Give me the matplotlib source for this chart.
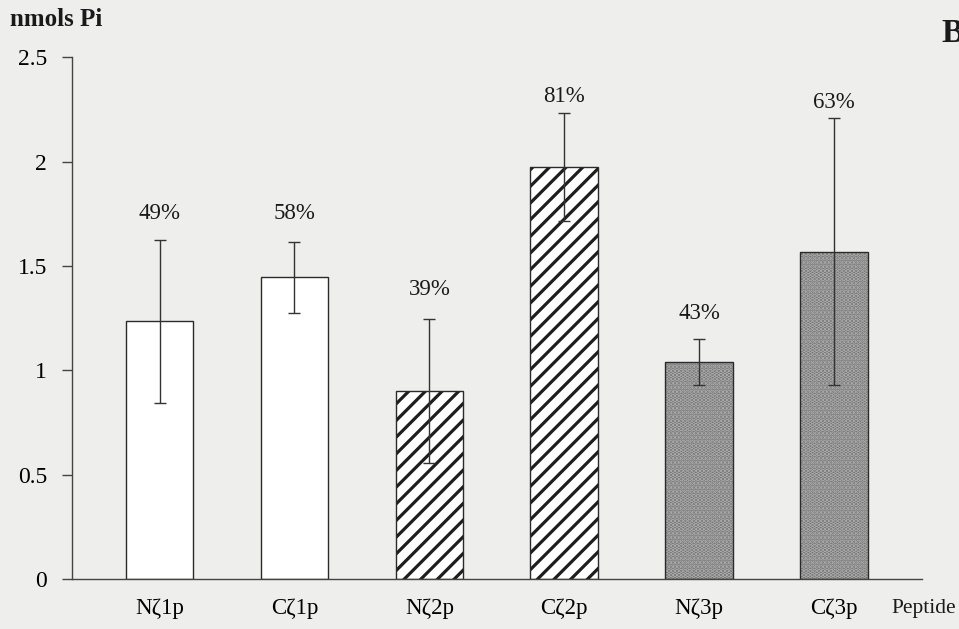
import matplotlib
matplotlib.use("Agg")
import matplotlib.pyplot as plt
import numpy as np

categories = ["Nζ1p", "Cζ1p", "Nζ2p", "Cζ2p", "Nζ3p", "Cζ3p"]
values = [1.235, 1.445, 0.90, 1.975, 1.04, 1.568]
errors = [0.39, 0.17, 0.345, 0.26, 0.11, 0.64]
percent_labels = ["49%", "58%", "39%", "81%", "43%", "63%"]
yticks = [0, 0.5, 1, 1.5, 2, 2.5]
ytick_labels = ["0", "0.5", "1", "1.5", "2", "2.5"]

label_offsets = [0.125, 0.135, 0.14, 0.075, 0.12, 0.075]
styles = ["open", "open", "hatch", "hatch", "dots", "dots"]

plt.rcParams["font.family"] = ["Liberation Serif", "DejaVu Serif"]
plt.rcParams["hatch.linewidth"] = 2.3

bg = "#eeeeec"
fig = plt.figure(figsize=(9.59, 6.29), dpi=100, facecolor=bg)
ax = fig.add_axes([0.075, 0.0795, 0.886, 0.8295])
ax.set_facecolor(bg)

x = np.arange(len(categories))
w = 0.5
ink = "#2a2a2a"
for xi, v, st in zip(x, values, styles):
    if st == "open":
        ax.bar(xi, v, width=w, color="white", edgecolor=ink, linewidth=1.0, zorder=2)
    elif st == "hatch":
        ax.bar(xi, v, width=w, color="white", edgecolor="#1e1e1e", linewidth=0,
               hatch="//", zorder=2)
        ax.bar(xi, v, width=w, color="none", edgecolor=ink, linewidth=1.0, zorder=3)
    else:
        ax.bar(xi, v, width=w, color="#737373", edgecolor="#b0b0b0", linewidth=0,
               hatch="....", zorder=2)
        ax.bar(xi, v, width=w, color="none", edgecolor=ink, linewidth=1.0, zorder=3)

ax.errorbar(x, values, yerr=errors, fmt="none", ecolor="#333333", elinewidth=1.0,
            capsize=4, capthick=1.0, zorder=4)

for xi, v, e, lab, off in zip(x, values, errors, percent_labels, label_offsets):
    ax.text(xi, v + e + off, lab, ha="center", va="center", fontsize=16.5, color="#1a1a1a")

ax.set_xlim(-0.65, 5.65)
ax.set_ylim(0, 2.5)
ax.set_yticks(yticks)
ax.set_yticklabels(ytick_labels, fontsize=17)
ax.set_xticks(x)
ax.set_xticklabels(categories, fontsize=16.5)
ax.tick_params(axis="x", length=0, pad=14)
ax.tick_params(axis="y", direction="out", length=7, width=1.0, color="#444444", pad=11)
for s in ["top", "right"]:
    ax.spines[s].set_visible(False)
for s in ["left", "bottom"]:
    ax.spines[s].set_color("#444444")
    ax.spines[s].set_linewidth(1.0)

fig.text(10 / 959, 1 - 20 / 629, "nmols Pi", fontsize=18, fontweight="bold",
         ha="left", va="center", color="#1a1a1a")
fig.text(891 / 959, 1 - 609 / 629, "Peptide", fontsize=15.5, ha="left", va="center",
         color="#1a1a1a")
fig.text(941 / 959, 1 - 33 / 629, "B", fontsize=24, fontweight="bold", ha="left",
         va="center", color="#1a1a1a")

fig.savefig("out.png", dpi=100, facecolor=bg)
